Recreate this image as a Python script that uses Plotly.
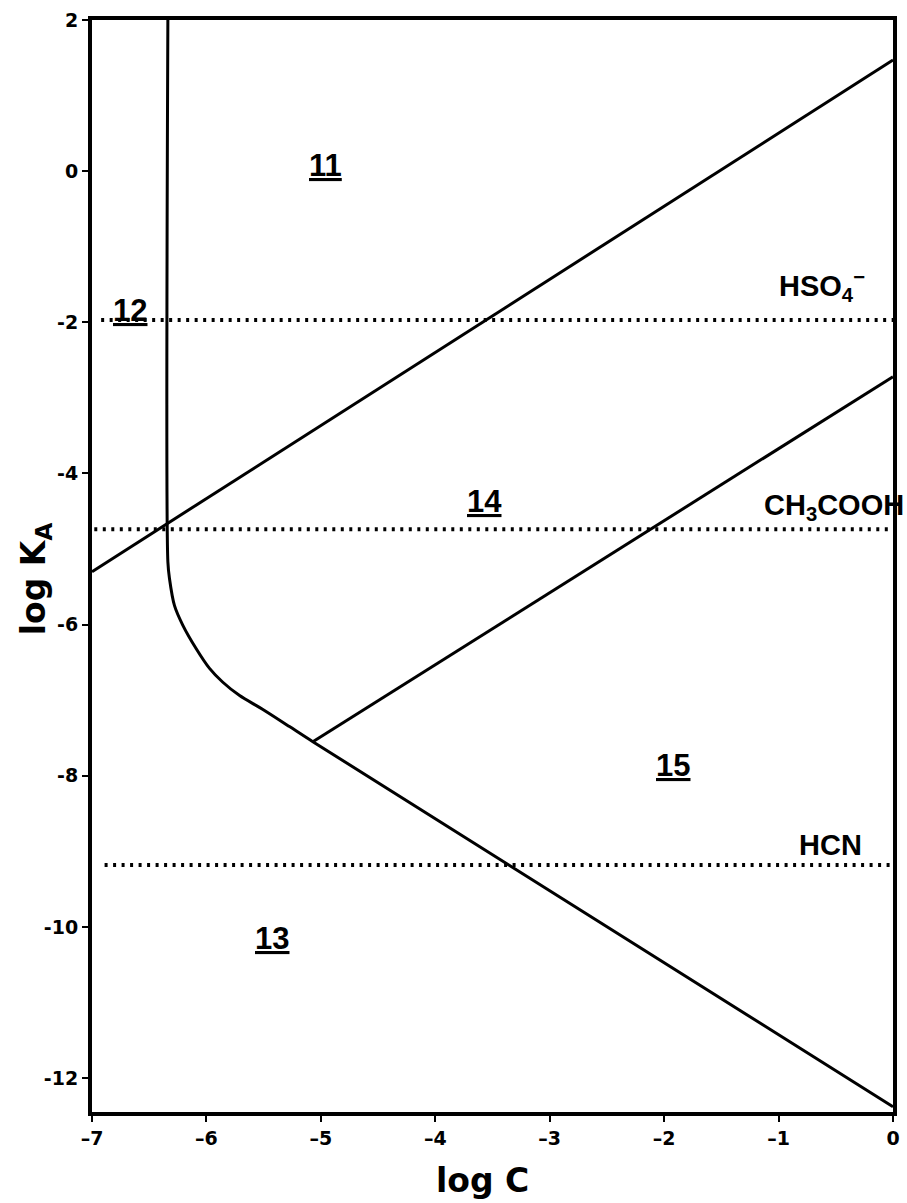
import plotly.graph_objects as go

# Boundary of region 12 / 13 (vertical + curve + descending line)
boundary_x = [-6.337, -6.337, -6.323, -6.279, -6.206, -6.089, -5.973, -5.859, -5.71, -5.51, -5.274, -5.07, 0.0]
boundary_y = [2.0, -5.17, -5.39, -5.75, -6.01, -6.32, -6.58, -6.76, -6.94, -7.12, -7.35, -7.55, -12.38]

# Upper diagonal
upper_x = [-7.0, 0.0]
upper_y = [-5.30, 1.47]

# Middle diagonal
middle_x = [-5.07, 0.0]
middle_y = [-7.55, -2.72]

# Acid pKa dotted lines
acid_names = ["HSO<sub>4</sub><sup>−</sup>", "CH<sub>3</sub>COOH", "HCN"]
acid_logka = [-1.97, -4.74, -9.18]
acid_xstart = [-6.92, -6.98, -6.89]
acid_label_x = [-0.62, -0.52, -0.55]
acid_label_y = [-1.52, -4.45, -8.92]

# Region labels
region_labels = ["11", "12", "13", "14", "15"]
region_x = [-4.96, -6.67, -5.43, -3.57, -1.92]
region_y = [0.08, -1.85, -10.16, -4.37, -7.86]

fig = go.Figure()

line_style = dict(color="black", width=3)
fig.add_trace(go.Scatter(x=boundary_x, y=boundary_y, mode="lines",
                         line=dict(color="black", width=3, shape="spline", smoothing=0.8),
                         hoverinfo="skip"))
fig.add_trace(go.Scatter(x=upper_x, y=upper_y, mode="lines", line=line_style, hoverinfo="skip"))
fig.add_trace(go.Scatter(x=middle_x, y=middle_y, mode="lines", line=line_style, hoverinfo="skip"))

for xs, ka in zip(acid_xstart, acid_logka):
    fig.add_trace(go.Scatter(x=[xs, 0.0], y=[ka, ka], mode="lines",
                             line=dict(color="black", width=4, dash="3px,5.5px"),
                             hoverinfo="skip"))

for name, lx, ly in zip(acid_names, acid_label_x, acid_label_y):
    fig.add_annotation(x=lx, y=ly, text="<b>" + name + "</b>", showarrow=False,
                       font=dict(family="Liberation Sans", size=29, color="black"),
                       xanchor="center", yanchor="middle")

for lab, rx, ry in zip(region_labels, region_x, region_y):
    fig.add_annotation(x=rx, y=ry, text="<b><u>" + lab + "</u></b>", showarrow=False,
                       font=dict(family="Liberation Sans", size=31, color="black"),
                       xanchor="center", yanchor="middle")

# Axis titles
fig.add_annotation(xref="paper", yref="paper", x=0.487, y=-0.0625, text="<b>log C</b>",
                   showarrow=False, xanchor="center", yanchor="middle",
                   font=dict(family="DejaVu Sans", size=33, color="black"))
fig.add_annotation(xref="paper", yref="paper", x=-0.071, y=0.488, text="<b>log K<sub>A</sub></b>",
                   showarrow=False, xanchor="center", yanchor="middle", textangle=-90,
                   font=dict(family="DejaVu Sans", size=33, color="black"))

tick_font = dict(family="DejaVu Sans", size=19, color="black", weight="bold")
fig.update_layout(
    width=907, height=1203,
    margin=dict(l=92, r=14, t=20, b=91, autoexpand=False),
    paper_bgcolor="white", plot_bgcolor="white",
    showlegend=False,
    xaxis=dict(range=[-7, 0], tickvals=[-7, -6, -5, -4, -3, -2, -1, 0],
               ticktext=["–7", "–6", "–5", "–4", "–3", "–2", "–1", "0"],
               showline=True, linecolor="black", linewidth=4, mirror=True,
               ticks="outside", ticklen=6, tickwidth=2, tickcolor="black",
               showgrid=False, zeroline=False, tickfont=tick_font, automargin=False),
    yaxis=dict(range=[-12.45, 2], tickvals=[2, 0, -2, -4, -6, -8, -10, -12],
               ticktext=["2", "0", "-2", "-4", "-6", "-8", "-10", "-12"],
               showline=True, linecolor="black", linewidth=4, mirror=True,
               ticks="outside", ticklen=6, tickwidth=2, tickcolor="black",
               showgrid=False, zeroline=False, tickfont=tick_font, automargin=False),
)

fig.write_html("out.html", config={"displayModeBar": False},
               post_script="document.body.style.margin='0';document.body.style.overflow='hidden';")
